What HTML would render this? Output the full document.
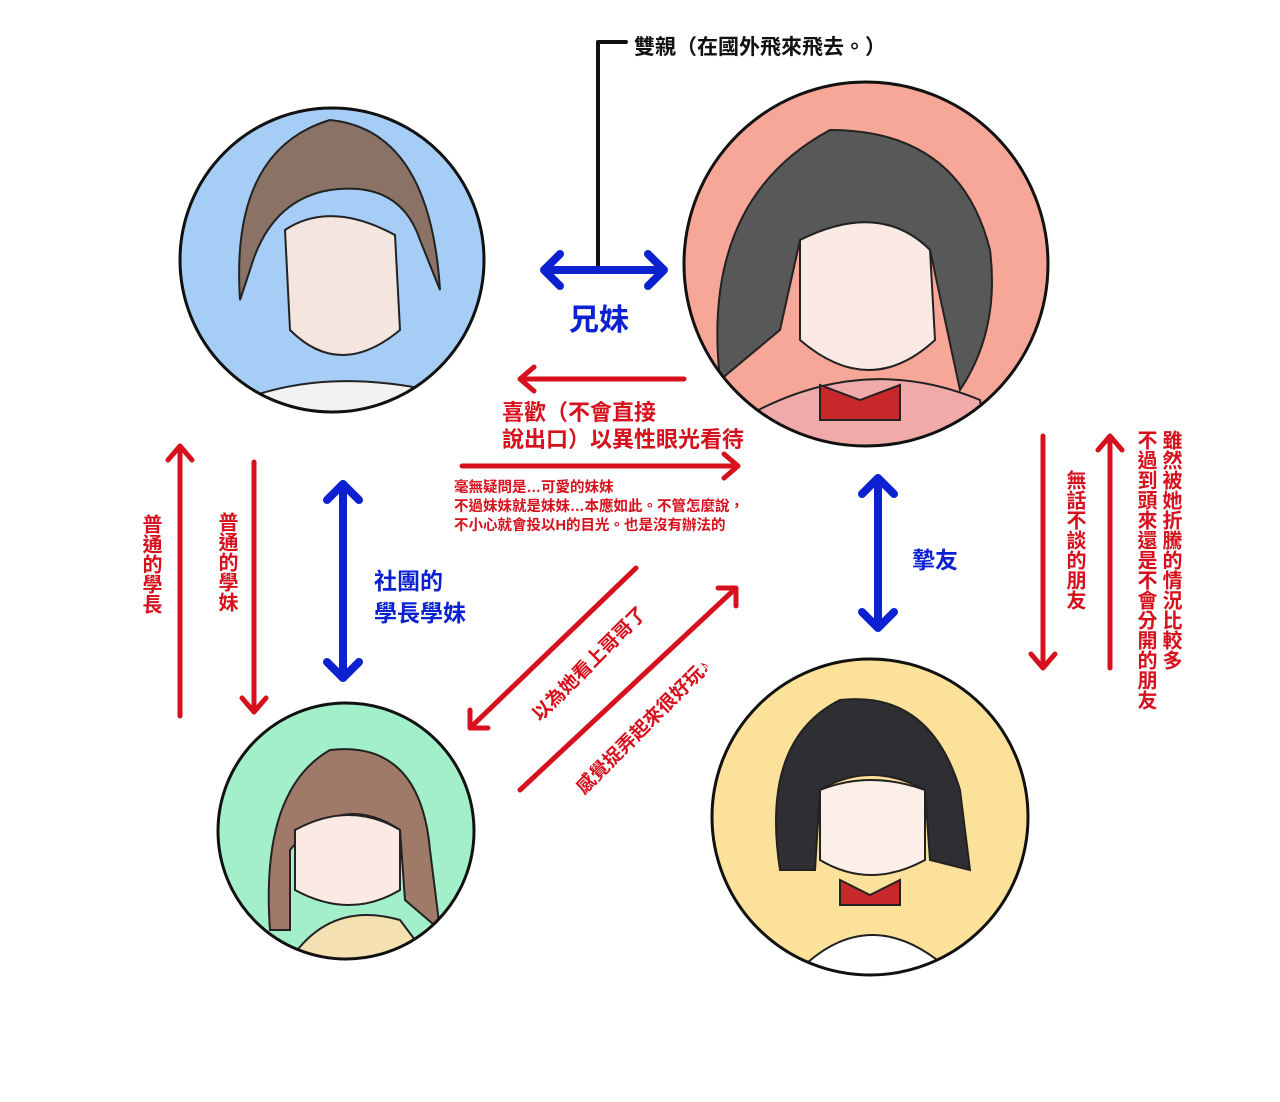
<!DOCTYPE html>
<html><head><meta charset="utf-8"><style>
body{margin:0;background:#fff}
svg text{font-family:"Liberation Sans","Noto Sans CJK TC",sans-serif;font-weight:bold}
</style></head><body>
<svg width="1280" height="1097" viewBox="0 0 1280 1097" xmlns="http://www.w3.org/2000/svg">
<defs>
<clipPath id="c1"><circle cx="332" cy="260" r="151"/></clipPath>
<clipPath id="c2"><circle cx="866" cy="264" r="181"/></clipPath>
<clipPath id="c3"><circle cx="346" cy="831" r="127"/></clipPath>
<clipPath id="c4"><circle cx="870" cy="817" r="157"/></clipPath>
</defs>
<g stroke="none">
<circle cx="332" cy="260" r="152" fill="#a6cdf6"/>
<circle cx="866" cy="264" r="182" fill="#f7a797"/>
<circle cx="346" cy="831" r="128" fill="#a2efc9"/>
<circle cx="870" cy="817" r="158" fill="#fbe19a"/>
</g>
<g stroke="#222" stroke-width="2">
<g clip-path="url(#c1)">
<path d="M240 300 Q230 150 330 120 Q430 130 440 290 L420 240 Q400 180 330 190 Q270 200 250 270Z" fill="#8a7366"/>
<path d="M285 230 Q330 200 395 235 L400 330 Q340 380 290 330Z" fill="#f4e6df"/>
<path d="M230 405 Q330 360 470 400 L440 440 L250 440Z" fill="#f2f2f2"/>
</g>
<g clip-path="url(#c2)">
<path d="M720 380 Q700 200 830 130 Q960 130 990 250 Q1000 330 960 390 L930 250 Q880 200 800 240 L780 330Z" fill="#585858"/>
<path d="M800 240 Q880 200 930 250 L935 340 Q870 400 800 340Z" fill="#fbe9e3"/>
<path d="M740 420 Q860 350 980 400 L990 460 L760 460Z" fill="#f0aaaa"/>
<path d="M820 385 L860 400 L900 385 L900 420 L820 420Z" fill="#c8282c"/>
</g>
<g clip-path="url(#c3)">
<path d="M270 930 Q260 790 330 750 Q420 740 430 850 L440 930 L405 900 L400 830 Q340 790 290 850 L290 930Z" fill="#a07a68"/>
<path d="M295 830 Q350 800 400 830 L400 890 Q350 920 295 890Z" fill="#fbeae4"/>
<path d="M290 960 Q330 900 400 920 L430 960Z" fill="#f4e0b0"/>
</g>
<g clip-path="url(#c4)">
<path d="M780 870 Q760 740 840 700 Q930 690 960 790 L970 870 L930 860 L925 790 Q870 760 820 790 L815 870Z" fill="#2e2e33"/>
<path d="M820 790 Q870 770 925 790 L925 860 Q870 890 820 860Z" fill="#fcefe8"/>
<path d="M790 980 Q870 890 960 980Z" fill="#ffffff"/>
<path d="M840 880 L870 895 L900 880 L900 905 L840 905Z" fill="#c8282c"/>
</g>
</g>
<g fill="none" stroke="#111" stroke-width="3">
<circle cx="332" cy="260" r="152"/>
<circle cx="866" cy="264" r="182"/>
<circle cx="346" cy="831" r="128"/>
<circle cx="870" cy="817" r="158"/>
</g>
<g fill="none" stroke-linecap="round" stroke-linejoin="round">
<path d="M598 265 V42 H626" stroke="#111" stroke-width="4"/>
<g stroke="#0c22d0" stroke-width="8">
<path d="M544 270 H664 M560 254 L544 270 L560 286 M648 254 L664 270 L648 286"/>
<path d="M343 484 V678 M327 500 L343 484 L359 500 M327 662 L343 678 L359 662"/>
<path d="M878 478 V628 M862 494 L878 478 L894 494 M862 612 L878 628 L894 612"/>
</g>
<g stroke="#d6101c" stroke-width="5">
<path d="M684 379 H520 M534 367 L520 379 L534 391"/>
<path d="M462 466 H738 M724 454 L738 466 L724 478"/>
<path d="M180 716 V446 M168 460 L180 446 L192 460"/>
<path d="M254 462 V712 M242 698 L254 712 L266 698"/>
<path d="M1043 436 V668 M1031 654 L1043 668 L1055 654"/>
<path d="M1110 668 V436 M1098 450 L1110 436 L1122 450"/>
<path d="M636 568 L470 728 M470 710 L470 728 L488 728"/>
<path d="M520 790 L736 588 M718 588 L736 588 L736 606"/>
</g>
</g>
<text x="634" y="54" font-size="21" fill="#111">雙親（在國外飛來飛去。）</text>
<text x="569" y="330" font-size="30" fill="#0c22d0">兄妹</text>
<text x="502" y="420" font-size="22" fill="#d6101c">喜歡（不會直接</text>
<text x="502" y="447" font-size="22" fill="#d6101c">說出口）以異性眼光看待</text>
<g font-size="14.5" fill="#d6101c" font-weight="normal">
<text x="454" y="492">毫無疑問是…可愛的妹妹</text>
<text x="454" y="511">不過妹妹就是妹妹…本應如此。不管怎麼說，</text>
<text x="454" y="530">不小心就會投以H的目光。也是沒有辦法的</text>
</g>
<text x="374" y="589" font-size="23" fill="#0c22d0">社團的</text>
<text x="374" y="621" font-size="23" fill="#0c22d0">學長學妹</text>
<text x="912" y="568" font-size="23" fill="#0c22d0">摯友</text>
<g font-size="20" fill="#d6101c" writing-mode="tb">
<text x="150" y="514">普通的學長</text>
<text x="226" y="512">普通的學妹</text>
<text x="1074" y="470">無話不談的朋友</text>
<text x="1170" y="430">雖然被她折騰的情況比較多</text>
<text x="1145" y="430">不過到頭來還是不會分開的朋友</text>
</g>
<text transform="translate(540 722) rotate(-45)" font-size="19" fill="#d6101c">以為她看上哥哥了</text>
<text transform="translate(584 795) rotate(-45)" font-size="19" fill="#d6101c">感覺捉弄起來很好玩♪</text>
</svg>
</body></html>
